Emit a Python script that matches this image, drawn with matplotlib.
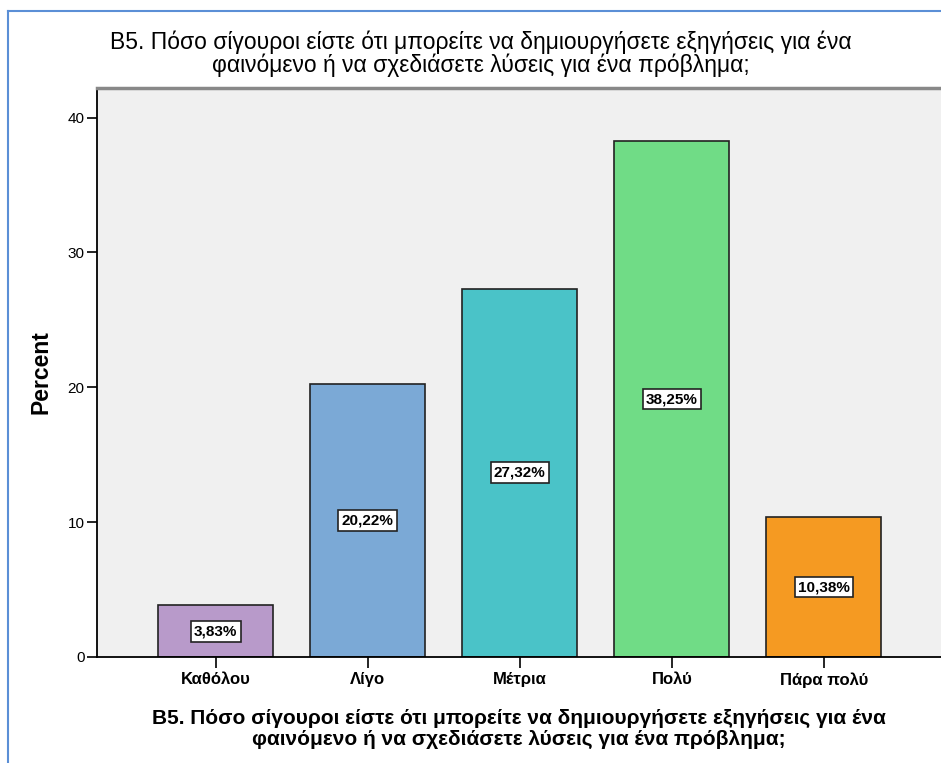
import numpy as np
import matplotlib.pyplot as plt
from matplotlib.lines import Line2D

categories = ['Καθόλου', 'Λίγο', 'Μέτρια', 'Πολύ', 'Πάρα πολύ']
percents = [3.83, 20.22, 27.32, 38.25, 10.38]
labels = ['3,83%', '20,22%', '27,32%', '38,25%', '10,38%']
colors = ['#B89ACA', '#7BA9D6', '#4AC3C8', '#70DC86', '#F59A22']

title = 'Β5. Πόσο σίγουροι είστε ότι μπορείτε να δημιουργήσετε εξηγήσεις για ένα\nφαινόμενο ή να σχεδιάσετε λύσεις για ένα πρόβλημα;'

plt.rcParams['font.family'] = ['Liberation Sans', 'DejaVu Sans']

fig = plt.figure(figsize=(9.41, 7.63), dpi=100)
ax = fig.add_axes([97 / 941, 1 - 657 / 763, 1 - 97 / 941, (657 - 88) / 763])
ax.set_facecolor('#F0F0F0')

x = np.arange(len(categories))
ax.bar(x, percents, width=0.755, color=colors, edgecolor='#222222', linewidth=1.2, zorder=2)
for xi, p, lab in zip(x, percents, labels):
    ax.text(xi, p / 2, lab, ha='center', va='center', fontsize=11, fontweight='bold', zorder=3,
            bbox=dict(boxstyle='square,pad=0.22', fc='white', ec='#222222', lw=1.2))

ax.set_xlim(-0.78, 4.77)
ax.set_ylim(0, 42.2)
ax.set_yticks([0, 10, 20, 30, 40])
ax.set_xticks(x)
ax.set_xticklabels(categories, fontsize=12, fontweight='bold')
ax.tick_params(axis='y', labelsize=11, length=7, width=1.2, pad=2)
ax.tick_params(axis='x', length=8, width=1.2, pad=3)
ax.spines['right'].set_visible(False)
ax.spines['top'].set_color('#888888')
ax.spines['top'].set_linewidth(2.5)
ax.spines['left'].set_linewidth(1.3)
ax.spines['bottom'].set_linewidth(1.3)
ax.set_ylabel('Percent', fontsize=16.5, fontweight='bold', labelpad=11)
ax.set_xlabel(title, fontsize=15, fontweight='bold', labelpad=15, linespacing=1.12)

fig.text(0.511, 1 - 54 / 763, title, ha='center', va='center', fontsize=16.5,
         linespacing=0.95)

# blue frame of the original output window
fig.add_artist(Line2D([8 / 941, 8 / 941], [0, 1 - 11 / 763], transform=fig.transFigure,
                      color='#5B8FD6', lw=1.5))
fig.add_artist(Line2D([8 / 941, 1], [1 - 11 / 763, 1 - 11 / 763], transform=fig.transFigure,
                      color='#5B8FD6', lw=1.5))

fig.savefig('out.png', dpi=100)
